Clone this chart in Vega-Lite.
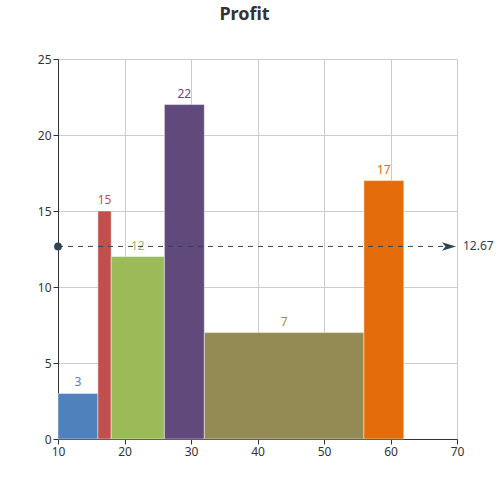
{
  "$schema": "https://vega.github.io/schema/vega-lite/v6.json",
  "autosize": "none",
  "width": 399,
  "height": 380,
  "padding": {"left": 58, "top": 59, "right": 43, "bottom": 61},
  "background": "#ffffff",
  "title": {
    "text": "Profit",
    "anchor": "middle",
    "dx": -13,
    "offset": 29,
    "font": "Noto Sans",
    "fontSize": 18,
    "fontWeight": "bold",
    "color": "#333333"
  },
  "config": {
    "view": {"stroke": null},
    "font": "Noto Sans",
    "axis": {
      "gridColor": "#cccccc",
      "gridWidth": 1,
      "domainColor": "#333333",
      "tickColor": "#333333",
      "tickSize": 5,
      "labelColor": "#333333",
      "labelFontSize": 12,
      "labelFont": "Noto Sans",
      "labelFlush": false
    }
  },
  "datasets": {
    "bars": [
      {"start": 10, "end": 16, "profit": 3, "name": "A"},
      {"start": 16, "end": 18, "profit": 15, "name": "B"},
      {"start": 18, "end": 26, "profit": 12, "name": "C"},
      {"start": 26, "end": 32, "profit": 22, "name": "D"},
      {"start": 32, "end": 56, "profit": 7, "name": "E"},
      {"start": 56, "end": 62, "profit": 17, "name": "F"}
    ],
    "avg": [
      {"from": 10, "to": 70, "mean": 12.67}
    ]
  },
  "layer": [
    {
      "data": {"name": "bars"},
      "mark": {"type": "rect", "stroke": "#ffffff", "strokeOpacity": 0.45, "strokeWidth": 1},
      "encoding": {
        "x": {
          "field": "start", "type": "quantitative",
          "scale": {"domain": [10, 70], "nice": false},
          "axis": {"title": null, "values": [10, 20, 30, 40, 50, 60, 70], "grid": true}
        },
        "x2": {"field": "end"},
        "y": {
          "field": "profit", "type": "quantitative",
          "scale": {"domain": [0, 25], "nice": false},
          "axis": {"title": null, "values": [0, 5, 10, 15, 20, 25], "grid": true}
        },
        "y2": {"datum": 0},
        "color": {
          "field": "name", "type": "nominal", "legend": null,
          "scale": {"domain": ["A", "B", "C", "D", "E", "F"], "range": ["#4f81bd", "#c0504d", "#9bbb59", "#5f4a7b", "#938a54", "#e46c0a"]}
        }
      }
    },
    {
      "data": {"name": "bars"},
      "transform": [{"calculate": "(datum.start + datum.end) / 2", "as": "mid"}],
      "mark": {"type": "text", "baseline": "bottom", "dy": -4, "fontSize": 12},
      "encoding": {
        "x": {"field": "mid", "type": "quantitative"},
        "y": {"field": "profit", "type": "quantitative"},
        "text": {"field": "profit"},
        "color": {"field": "name", "type": "nominal", "legend": null}
      }
    },
    {
      "data": {"name": "avg"},
      "mark": {"type": "rule", "color": "#2f4554", "strokeDash": [5, 5], "strokeWidth": 1},
      "encoding": {
        "x": {"field": "from", "type": "quantitative"},
        "x2": {"field": "to"},
        "y": {"field": "mean", "type": "quantitative"}
      }
    },
    {
      "data": {"name": "avg"},
      "mark": {"type": "point", "shape": "circle", "filled": true, "size": 60, "color": "#2f4554", "opacity": 1},
      "encoding": {
        "x": {"field": "from", "type": "quantitative"},
        "y": {"field": "mean", "type": "quantitative"}
      }
    },
    {
      "data": {"name": "avg"},
      "mark": {"type": "point", "shape": "M-1,-0.6L1,0L-1,0.6L-0.5,0Z", "filled": true, "size": 200, "color": "#2f4554", "opacity": 1, "xOffset": -8},
      "encoding": {
        "x": {"field": "to", "type": "quantitative"},
        "y": {"field": "mean", "type": "quantitative"}
      }
    },
    {
      "data": {"name": "avg"},
      "mark": {"type": "text", "align": "left", "baseline": "middle", "dx": 6, "fontSize": 12, "color": "#2f4554"},
      "encoding": {
        "x": {"field": "to", "type": "quantitative"},
        "y": {"field": "mean", "type": "quantitative"},
        "text": {"field": "mean", "type": "quantitative", "format": ".2f"}
      }
    }
  ]
}
